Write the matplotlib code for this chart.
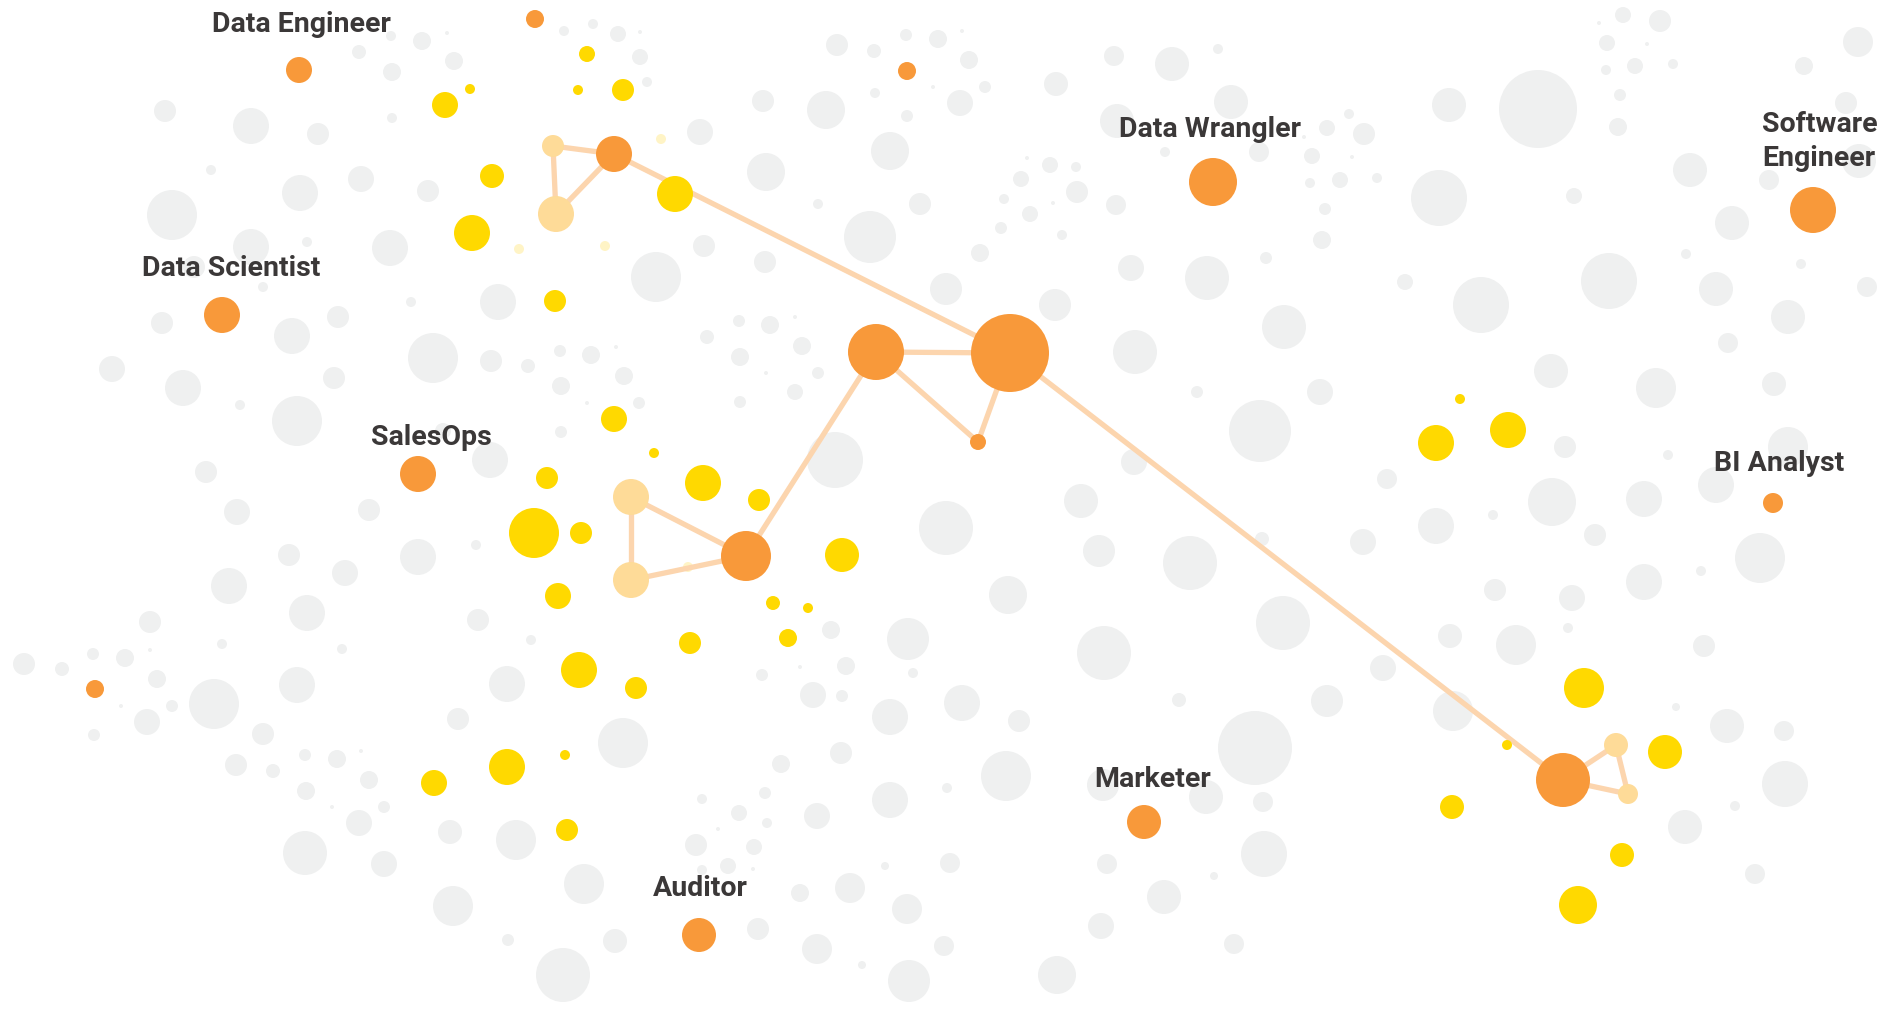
import matplotlib
matplotlib.use("Agg")
import matplotlib.pyplot as plt

W, H = 1883, 1009

# ---------------- data (pixel-space layout coordinates) ----------------
gray_x = [391,422,447,359,392,454,392,165,251,318,211,300,361,428,172,251,307,390,194,263,411,
          162,292,338,433,112,183,240,334,297,206,443,
          564,593,618,640,640,647,763,826,700,837,874,906,938,875,933,907,890,766,
          818,920,870,704,765,656,946,498,491,528,560,591,616,624,561,587,639,561,490,
          707,739,770,795,802,740,766,818,795,740,835,
          962,969,985,960,1114,1172,1218,1056,1231,1117,1349,1327,1364,1304,1165,1259,1312,1352,
          1027,1050,1076,1021,1077,1310,1340,1377,1004,1053,1030,1116,1325,1001,1062,1322,980,
          1266,1131,1207,1405,1055,1135,1284,1197,1320,1260,1134,1387,1081,
          1623,1660,1599,1607,1647,1606,1635,1673,1620,1618,1858,1804,1846,1449,1538,1439,1574,
          1690,1769,1859,1732,1686,1801,1609,1481,1716,1867,1788,1728,1551,1656,1774,1565,1668,
          1788,1716,1552,1644,
          237,369,289,418,345,229,307,150,478,222,342,93,125,150,24,62,157,121,172,147,214,297,
          94,263,458,236,273,305,337,361,369,306,332,384,359,450,305,384,453,
          476,531,507,623,831,908,846,913,762,800,813,842,890,841,781,890,817,702,765,739,767,
          718,696,754,728,702,753,516,584,885,800,850,907,758,615,508,563,817,862,909,946,
          1099,1190,1008,1283,1104,1262,1363,1383,962,1019,1179,1327,1255,1006,947,1103,1206,
          1263,950,1107,1214,1264,1164,1101,1234,944,1057,
          1436,1493,1595,1760,1701,1644,1495,1572,1568,1450,1516,1704,1453,1676,1727,1784,1785,
          1735,1685,1755]
gray_y = [36,41,33,52,72,61,118,111,126,134,170,193,179,191,215,247,242,248,267,287,302,
          323,336,317,358,369,388,405,378,421,472,431,
          31,24,34,32,57,82,101,110,132,45,51,35,39,93,87,116,151,172,
          204,204,237,246,262,277,289,302,361,366,351,355,347,376,386,403,403,432,460,
          337,321,325,317,346,357,373,373,392,402,460,
          31,60,87,103,56,64,49,84,102,121,114,128,134,137,152,152,156,157,
          158,165,167,179,192,183,180,178,199,203,214,205,209,228,235,240,253,
          258,268,278,282,305,352,327,392,392,431,462,479,501,
          15,21,23,43,44,70,66,64,95,127,42,66,103,105,109,198,196,
          170,180,161,223,254,264,281,305,289,287,317,343,371,388,384,447,455,
          447,485,502,499,
          512,510,555,557,573,586,613,622,620,644,649,654,658,650,664,669,679,706,706,722,704,685,
          735,734,719,765,771,755,759,751,780,791,807,807,823,832,853,864,906,
          545,640,684,743,630,639,666,673,675,667,695,696,717,753,764,800,816,799,793,813,823,
          829,845,847,866,870,869,840,884,866,893,888,909,929,941,940,975,949,965,981,528,
          551,563,595,623,653,539,542,668,703,721,700,701,748,776,788,785,797,
          802,863,864,876,854,897,926,944,946,975,
          526,515,535,558,571,582,590,598,628,636,645,646,711,707,726,731,784,
          806,827,874]
gray_r = [5,9,2,7,9,9,5,11,18,11,5,18,13,11,25,18,5,18,11,5,5,
          11,18,11,25,13,18,5,11,25,11,8,
          5,5,8,2,8,5,11,19,13,11,7,6,9,5,2,6,19,19,
          5,11,26,11,11,25,16,18,11,7,6,9,2,9,9,2,6,6,18,
          7,6,9,2,9,9,2,6,8,6,28,
          2,9,6,13,10,17,5,12,17,17,5,8,11,2,5,10,8,2,
          2,8,5,8,11,5,8,5,5,2,8,10,6,6,5,9,9,
          6,13,22,8,16,22,22,6,13,31,13,10,17,
          8,11,2,8,2,5,8,5,6,9,15,9,11,17,39,28,8,
          17,10,17,17,5,5,28,28,17,10,17,10,17,20,12,11,5,
          20,18,24,18,
          13,11,11,18,13,18,18,11,11,5,5,6,9,2,11,7,9,2,6,13,25,18,
          6,11,11,11,7,6,9,2,9,9,2,6,13,12,22,13,20,
          5,5,18,25,9,21,9,5,6,2,13,6,18,11,9,18,13,5,6,8,5,
          2,11,8,8,5,2,20,20,4,9,15,15,11,12,6,27,15,4,21,27,
          16,27,19,27,27,7,13,13,18,11,7,16,37,25,5,16,17,
          10,10,10,4,23,17,13,10,10,19,
          18,5,11,25,5,18,11,13,5,12,20,11,20,4,17,10,23,
          5,17,10]

pale_x = [661, 519, 605, 688]
pale_y = [139, 249, 246, 567]
pale_r = [5, 5, 5, 5]

yellow_x = [587,578,623,470,445,492,472,675,555,614,654,547,703,759,534,581,842,558,773,808,
            690,788,579,636,507,565,567,434,1460,1436,1508,1584,1507,1665,1452,1622,1578]
yellow_y = [54,90,90,89,105,176,233,194,301,419,453,478,483,500,533,533,555,596,603,608,
            643,638,670,688,767,755,830,783,399,443,430,688,745,752,807,855,905]
yellow_r = [8,5,11,5,13,12,18,18,11,13,5,11,18,11,25,11,17,13,7,5,
            11,9,18,11,18,5,11,13,5,18,18,20,5,17,12,12,19]

orange_x = [535,299,907,222,418,95,1213,1813,1773,699,1144]
orange_y = [19,70,71,315,474,689,182,210,503,935,822]
orange_r = [9,13,9,18,18,9,24,23,10,17,17]

# network nodes
node_names = ["A", "B", "C", "E", "F", "G", "H", "I", "J", "K", "L", "M"]
node_x     = [614, 553, 556, 1010, 876, 978, 746, 631, 631, 1563, 1616, 1628]
node_y     = [154, 146, 214, 353, 352, 442, 556, 497, 580, 780, 745, 794]
node_r     = [18, 11, 18, 39, 28, 8, 25, 18, 18, 27, 12, 10]
node_kind  = ["o", "p", "p", "o", "o", "o", "o", "p", "p", "o", "p", "p"]
edges = [("A","B"),("B","C"),("C","A"),("A","E"),("E","F"),("F","G"),("G","E"),
         ("F","H"),("H","I"),("I","J"),("J","H"),("E","K"),("K","L"),("L","M"),("M","K")]

labels = ["Data Engineer", "Data Scientist", "SalesOps", "Data Wrangler",
          "Software\nEngineer", "BI Analyst", "Auditor", "Marketer"]
label_x = [301, 231, 431, 1210, 1818, 1779, 700, 1153]
label_y = [32, 276, 445, 137, 132, 471, 896, 787]

# ---------------- style ----------------
C_GRAY = "#EFF0F0"
C_PALE = "#FFF4C6"
C_YEL = "#FFD900"
C_ORA = "#F8993A"
C_PEA = "#FEDB98"
C_LINE = "#FCD5AE"
C_TXT = "#3B3838"

fig = plt.figure(figsize=(W / 100, H / 100), dpi=100)
ax = fig.add_axes([0, 0, 1, 1])
ax.set_xlim(0, W)
ax.set_ylim(H, 0)
ax.axis("off")
fig.patch.set_facecolor("white")

PX2PT = 72 / 100.0


def bubbles(xs, ys, rs, color, z):
    sizes = [(2 * r * PX2PT) ** 2 for r in rs]
    ax.scatter(xs, ys, s=sizes, c=color, linewidths=0, zorder=z)


bubbles(gray_x, gray_y, gray_r, C_GRAY, 1)
bubbles(pale_x, pale_y, pale_r, C_PALE, 2)

pos = {n: (x, y) for n, x, y in zip(node_names, node_x, node_y)}
for a, b in edges:
    ax.plot([pos[a][0], pos[b][0]], [pos[a][1], pos[b][1]], color=C_LINE,
            lw=5.3 * PX2PT, solid_capstyle="butt", zorder=3)

bubbles(yellow_x, yellow_y, yellow_r, C_YEL, 4)
bubbles(orange_x, orange_y, orange_r, C_ORA, 4)
for kind, col in (("o", C_ORA), ("p", C_PEA)):
    xs = [x for x, k in zip(node_x, node_kind) if k == kind]
    ys = [y for y, k in zip(node_y, node_kind) if k == kind]
    rs = [r for r, k in zip(node_r, node_kind) if k == kind]
    bubbles(xs, ys, rs, col, 5)

for t, x, y in zip(labels, label_x, label_y):
    if "\n" in t:
        lines = t.split("\n")
        for i, ln in enumerate(lines):
            ax.text(1762, y + i * 34, ln, ha="left", va="baseline", fontsize=20.5,
                    fontweight="bold", family=["Roboto", "DejaVu Sans"], color=C_TXT, zorder=6)
    else:
        ax.text(x, y, t, ha="center", va="baseline", fontsize=20.5,
                fontweight="bold", family=["Roboto", "DejaVu Sans"], color=C_TXT, zorder=6)

fig.savefig("out.png", dpi=100, facecolor="white")
